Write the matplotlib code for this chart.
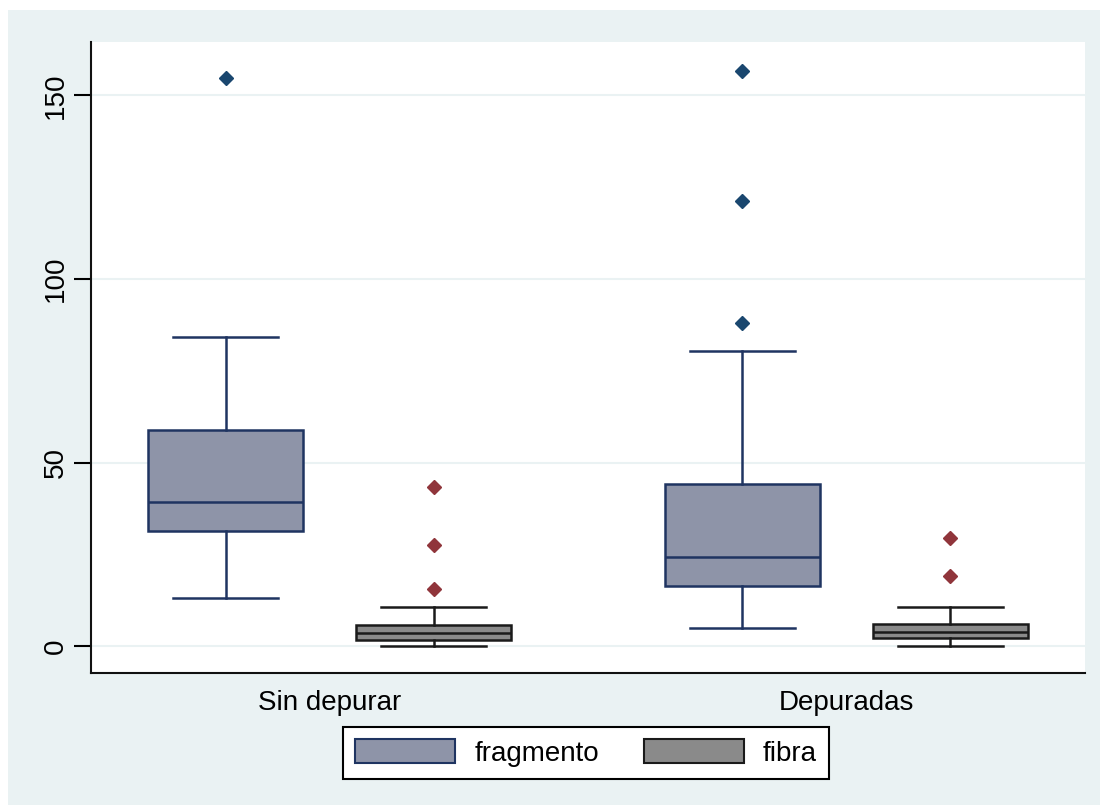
import matplotlib.pyplot as plt
from matplotlib.patches import Rectangle, Patch

# Values
groups = ["Sin depurar", "Depuradas"]
series = ["fragmento", "fibra"]

# whislo, q1, med, q3, whishi per box
frag_stats = [
    [13.1, 31.3, 39.2, 58.8, 84.1],
    [4.9, 16.3, 24.2, 44.1, 80.3],
]
frag_out = [
    [154.8],
    [156.7, 121.3, 88.1],
]
fibra_stats = [
    [0.0, 1.6, 3.7, 5.9, 10.7],
    [0.0, 2.3, 3.9, 6.0, 10.7],
]
fibra_out = [
    [43.3, 27.5, 15.5],
    [29.4, 19.0],
]

yticks = [0, 50, 100, 150]

frag_fill = "#8e94a8"
frag_edge = "#1f3461"
frag_dot = "#1a476f"
fibra_fill = "#8a8a8a"
fibra_edge = "#1a1a1a"
fibra_dot = "#90353b"
panel = "#eaf2f3"

fig = plt.figure(figsize=(11.04, 8.09), dpi=100)
plt.rcParams["font.family"] = ["Liberation Sans", "DejaVu Sans"]
fig.patches.append(Rectangle((8 / 1104, 4 / 809), 1092 / 1104, 795 / 809,
                             transform=fig.transFigure, facecolor=panel,
                             edgecolor="none", zorder=-10))
ax = fig.add_axes([91 / 1104, 1 - 673 / 809, (1085 - 91) / 1104, (673 - 42) / 809])
ax.set_facecolor("white")


def to_stats(rows, outs):
    res = []
    for r, o in zip(rows, outs):
        res.append(dict(whislo=r[0], q1=r[1], med=r[2], q3=r[3], whishi=r[4], fliers=o))
    return res


offset = 0.201
width = 0.30
capw = 0.203
pos_frag = [i - offset for i in range(len(groups))]
pos_fibra = [i + offset for i in range(len(groups))]

for stats, outs, pos, fill, edge, dot in [
    (frag_stats, frag_out, pos_frag, frag_fill, frag_edge, frag_dot),
    (fibra_stats, fibra_out, pos_fibra, fibra_fill, fibra_edge, fibra_dot),
]:
    ax.bxp(to_stats(stats, outs), positions=pos, widths=width,
           capwidths=capw, patch_artist=True,
           boxprops=dict(facecolor=fill, edgecolor=edge, linewidth=1.8),
           medianprops=dict(color=edge, linewidth=1.8),
           whiskerprops=dict(color=edge, linewidth=1.8),
           capprops=dict(color=edge, linewidth=1.8),
           flierprops=dict(marker="D", markersize=7, markerfacecolor=dot,
                           markeredgecolor=dot))

ax.set_xlim(-0.462, 1.462)
ax.set_ylim(-7.3, 164.5)
ax.set_xticks(range(len(groups)))
ax.set_xticklabels(groups, fontsize=20)
ax.tick_params(axis="x", length=0, pad=12)
ax.set_yticks(yticks)
ax.set_yticklabels([str(v) for v in yticks], fontsize=20, rotation=90, va="center")
ax.tick_params(axis="y", length=12, width=1.5, pad=4)
ax.yaxis.grid(True, color=panel, linewidth=1.5)
ax.set_axisbelow(True)
for s in ["top", "right"]:
    ax.spines[s].set_visible(False)
for s in ["left", "bottom"]:
    ax.spines[s].set_linewidth(1.5)
    ax.spines[s].set_color("#111111")

handles = [Patch(facecolor=frag_fill, edgecolor=frag_edge, linewidth=1.5),
           Patch(facecolor=fibra_fill, edgecolor=fibra_edge, linewidth=1.5)]
leg = fig.legend(handles, series, loc="center", bbox_to_anchor=(586 / 1104, 1 - 753 / 809),
                 ncol=2, fontsize=20, frameon=True, fancybox=False, framealpha=1,
                 handlelength=3.6, handleheight=0.95, columnspacing=1.6,
                 handletextpad=0.7, borderpad=0.45)
leg.get_frame().set_edgecolor("black")
leg.get_frame().set_linewidth(1.5)

fig.savefig("out.png", dpi=100, facecolor="white")
